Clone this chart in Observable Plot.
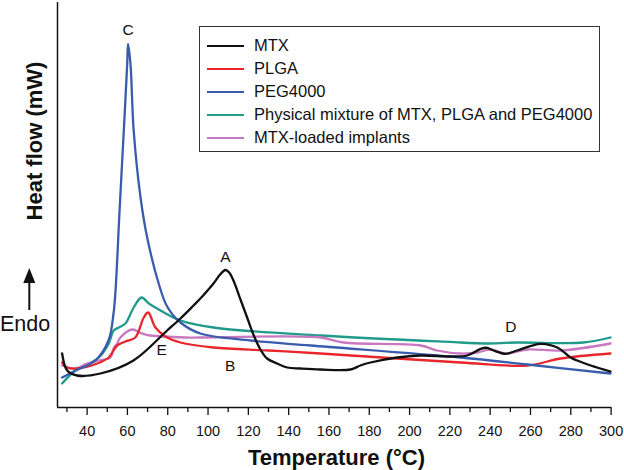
<!DOCTYPE html>
<html><head><meta charset="utf-8">
<script src="https://cdn.jsdelivr.net/npm/d3@7"></script>
<script src="https://cdn.jsdelivr.net/npm/@observablehq/plot@0.6"></script>
<style>
body{margin:0;background:#fff;font-family:"Liberation Sans",Arial,sans-serif;}
#wrap{position:relative;width:624px;height:470px;}
#legend{position:absolute;left:199px;top:26px;width:401px;height:126px;border:1.5px solid #333;background:#fff;font-size:16.5px;color:#111;padding-top:7px;box-sizing:border-box;}
#legend .row{height:23px;line-height:23px;display:flex;align-items:center;}
#legend .sw{display:inline-block;margin-left:6.5px;width:37px;height:2px;margin-right:10.5px;}
</style></head><body><div id="wrap"></div>
<script>
// ---- data (heat flow in arbitrary units, temperature in °C) ----
const seriesNames = ["MTX", "PLGA", "PEG4000", "Physical mixture of MTX, PLGA and PEG4000", "MTX-loaded implants"];
const seriesColors = ["#111111", "#e8262c", "#3a5cad", "#1f9a8b", "#c878c0"];

const mtxT = [27.6, 30.1, 35.0, 46.6, 63.0, 79.7, 86.3, 92.8, 96.2, 102.7, 106.0, 108.6, 110.5, 112.6, 116.1, 119.4, 122.5, 126.0, 129.3, 134.3, 139.3, 145.9, 155.8, 170.7, 175.6, 180.6, 193.8, 205.5, 220.3, 228.6, 235.3, 238.5, 241.7, 247.7, 253.4, 265.0, 273.3, 279.9, 283.2, 289.9, 299.7];
const mtxV = [54, 37, 32, 34, 47, 77, 89, 102, 109, 124, 133, 137.5, 135, 127, 108, 90, 73, 58, 49, 44, 40, 39, 38, 38, 42, 45, 50, 52, 51, 52, 58.7, 59.7, 57, 53.7, 57, 63.7, 60, 50, 47, 42, 36];

const plgaT = [27.6, 30.0, 35.0, 45.0, 50.7, 54.9, 59.0, 63.9, 68.1, 70.3, 73.9, 78.9, 86.3, 102.7, 130.0, 155.8, 225.3, 258.5, 274.9, 299.7];
const plgaV = [45, 40, 39, 44, 50, 62, 66, 70, 90, 95, 80, 71, 65, 60, 57, 54, 45, 42, 49, 54];

const pegT = [27.6, 34.2, 44.1, 50.6, 53.1, 54.1, 56.1, 58.2, 59.9, 60.3, 61.5, 63.1, 66.5, 69.8, 75.5, 79.7, 86.3, 96.2, 121.0, 150.9, 225.3, 258.5, 299.7];
const pegV = [30, 37, 47, 67, 94, 117, 197, 277, 344, 363.7, 344, 277, 210, 170, 124, 101, 85, 74, 67, 62, 50, 43, 34];

const mixT = [27.6, 34.2, 45.8, 50.7, 53.2, 55.7, 59.0, 63.1, 67.0, 70.6, 73.9, 86.3, 102.7, 155.8, 225.3, 236.7, 253.4, 286.3, 299.7];
const mixV = [24, 37, 50, 64, 77, 80, 84, 100, 110, 104, 100, 87, 80, 72, 65, 64, 65, 65, 70];

const implT = [27.6, 34.2, 40.0, 45.6, 51.6, 53.1, 54.9, 56.5, 62.3, 67.3, 71.4, 88.8, 96.2, 155.8, 167.2, 205.5, 213.7, 225.3, 233.6, 240.2, 247.6, 258.4, 275.3, 299.7];
const implV = [42, 39, 44, 47, 50, 59, 64, 70, 78, 74, 72, 70, 70, 70, 65, 62, 57, 54, 55, 58, 54, 58, 57, 64];

const peakLabels = ["A", "B", "C", "D", "E"];
const peakLabelT = [108.6, 111.0, 60.3, 250.3, 77.0];
const peakLabelV = [150, 41, 377, 80, 57];

const majorTicks = [40, 60, 80, 100, 120, 140, 160, 180, 200, 220, 240, 260, 280, 300];
const minorTicks = [30, 50, 70, 90, 110, 130, 150, 170, 190, 210, 230, 250, 270, 290];

// ---- build table ----
const series = [
  {name: seriesNames[0], T: mtxT, V: mtxV},
  {name: seriesNames[1], T: plgaT, V: plgaV},
  {name: seriesNames[2], T: pegT, V: pegV},
  {name: seriesNames[3], T: mixT, V: mixV},
  {name: seriesNames[4], T: implT, V: implV}
];
const drawOrder = [3, 4, 1, 2, 0];
const rows = [];
drawOrder.forEach(k => series[k].T.forEach((t, i) => rows.push({series: series[k].name, T: t, V: series[k].V[i]})));
const labels = peakLabels.map((s, i) => ({s, T: peakLabelT[i], V: peakLabelV[i]}));

const xMin = 25.3, xMax = 300.2;
const chart = Plot.plot({
  width: 624, height: 470,
  marginLeft: 57, marginRight: 13, marginTop: 2, marginBottom: 63,
  style: {fontFamily: "'Liberation Sans', Arial, sans-serif", fontSize: "14px", color: "#111", background: "#fff", overflow: "visible"},
  x: {domain: [xMin, xMax]},
  y: {domain: [0, 405], axis: null},
  color: {domain: seriesNames, range: seriesColors},
  marks: [
    Plot.line(rows, {x: "T", y: "V", z: "series", stroke: "series", curve: "catmull-rom", strokeWidth: 2.3}),
    Plot.text(labels, {x: "T", y: "V", text: "s", fontSize: 15.5, fill: "#111"}),
    Plot.axisX({ticks: minorTicks, tickSize: 5, tickFormat: () => "", label: null, strokeWidth: 1.3}),
    Plot.axisX({ticks: majorTicks, tickSize: 8, tickPadding: 10, label: null, fontSize: 14.5, strokeWidth: 1.3}),
    Plot.ruleY([0], {strokeWidth: 1.5}),
    Plot.ruleX([xMin], {strokeWidth: 1.5})
  ]
});

const svg = d3.select(chart);
svg.append("text").attr("x", 336.5).attr("y", 465).attr("text-anchor", "middle")
  .attr("font-size", 22).attr("font-weight", "bold").attr("fill", "#111").text("Temperature (°C)");
svg.append("text").attr("transform", "translate(42,141) rotate(-90)").attr("text-anchor", "middle")
  .attr("font-size", 22).attr("font-weight", "bold").attr("fill", "#111").text("Heat flow (mW)");
svg.append("line").attr("x1", 29.3).attr("x2", 29.3).attr("y1", 280).attr("y2", 310).attr("stroke", "#111").attr("stroke-width", 2);
svg.append("path").attr("d", "M29.3,268 L23.3,283 L35.3,283 Z").attr("fill", "#111");
svg.append("text").attr("x", 0).attr("y", 331).attr("text-anchor", "start").attr("font-size", 21.5).attr("fill", "#111").text("Endo");

const wrap = document.getElementById("wrap");
wrap.appendChild(chart);
const leg = document.createElement("div");
leg.id = "legend";
seriesNames.forEach((n, i) => {
  const r = document.createElement("div"); r.className = "row";
  const sw = document.createElement("span"); sw.className = "sw"; sw.style.background = seriesColors[i];
  const t = document.createElement("span"); t.textContent = n;
  r.appendChild(sw); r.appendChild(t); leg.appendChild(r);
});
wrap.appendChild(leg);
</script></body></html>
